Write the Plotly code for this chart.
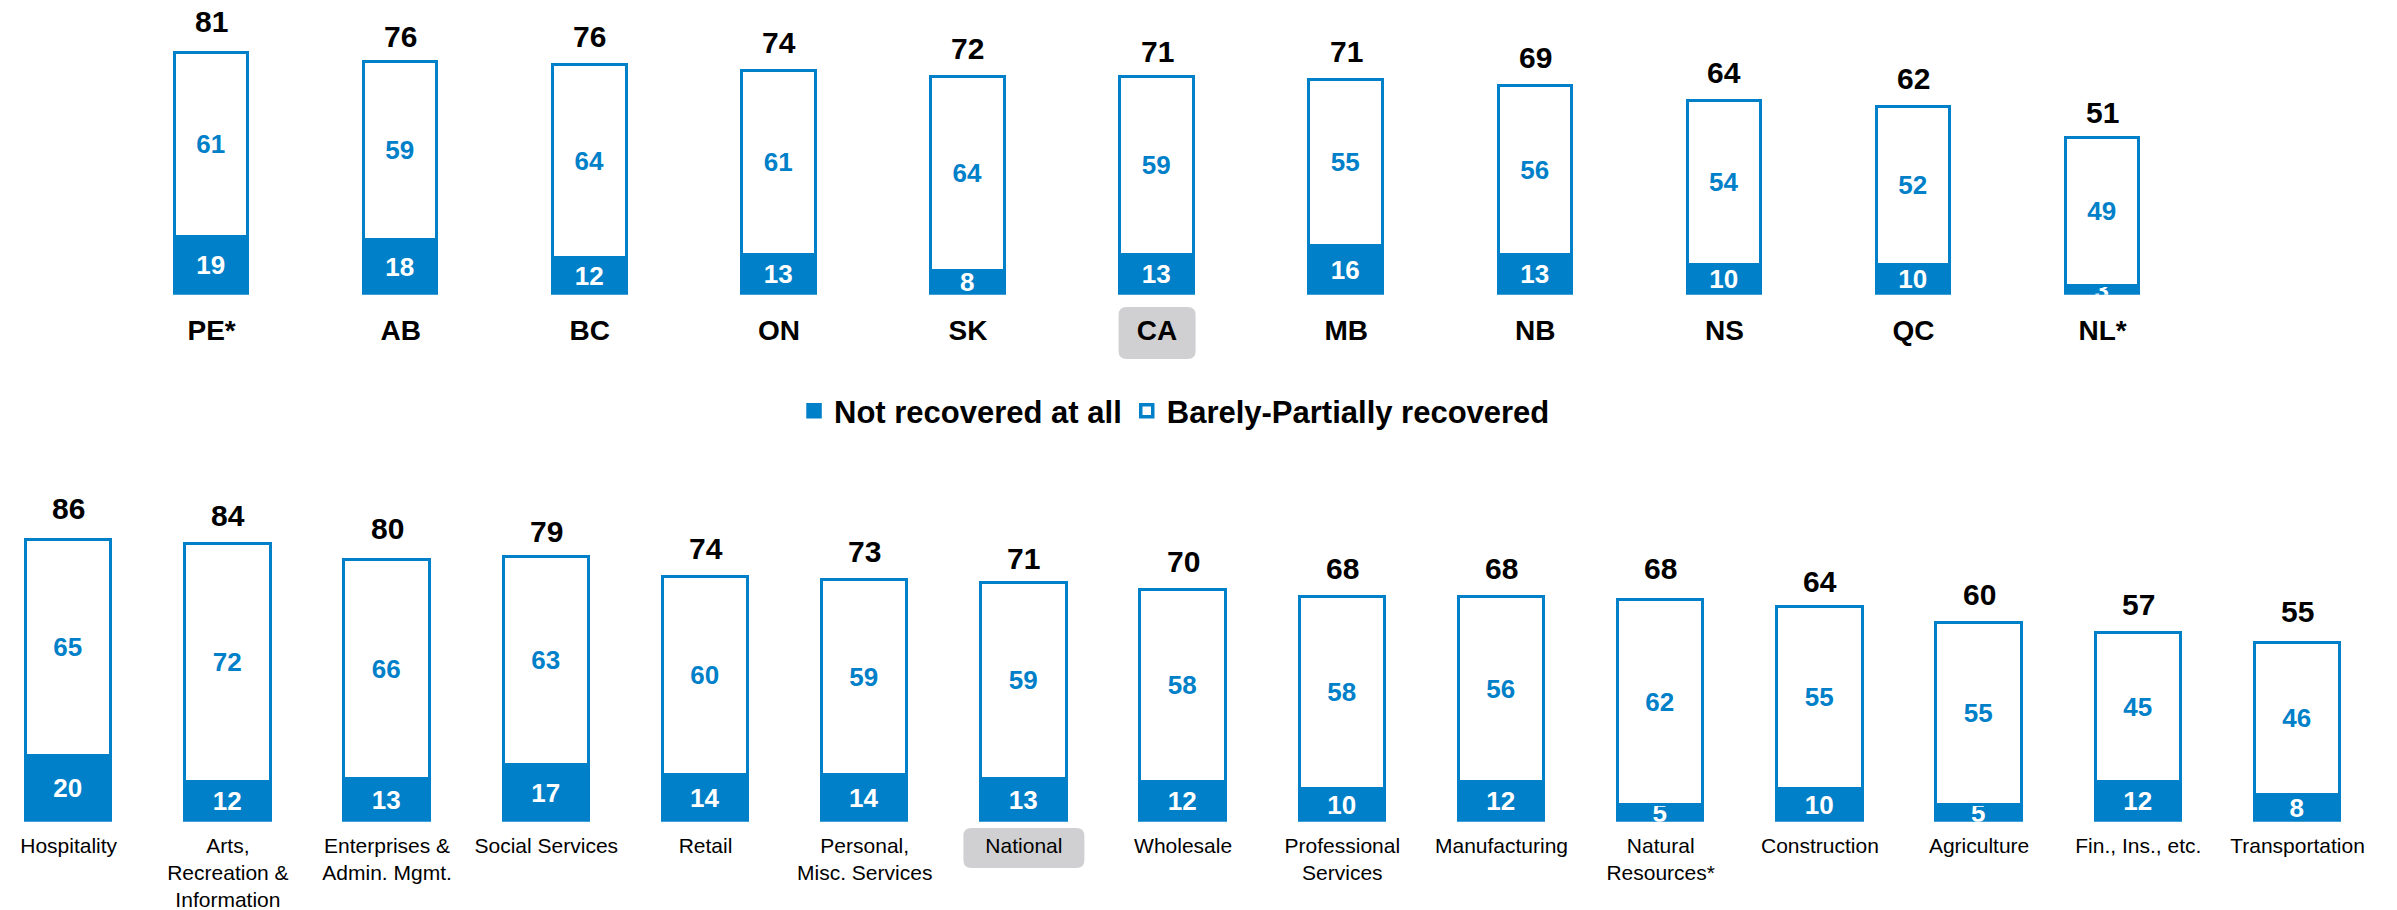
import plotly.graph_objects as go
from plotly.subplots import make_subplots

# provinces (top panel)
provinces = ["PE*", "AB", "BC", "ON", "SK", "CA", "MB", "NB", "NS", "QC", "NL*"]
prov_not = [19, 18, 12, 13, 8, 13, 16, 13, 10, 10, 3]
prov_partial = [61, 59, 64, 61, 64, 59, 55, 56, 54, 52, 49]
prov_total = [81, 76, 76, 74, 72, 71, 71, 69, 64, 62, 51]

# sectors (bottom panel)
sectors = ["Hospitality", "Arts,<br>Recreation &<br>Information", "Enterprises &<br>Admin. Mgmt.",
           "Social Services", "Retail", "Personal,<br>Misc. Services", "National", "Wholesale",
           "Professional<br>Services", "Manufacturing", "Natural<br>Resources*", "Construction",
           "Agriculture", "Fin., Ins., etc.", "Transportation"]
sect_not = [20, 12, 13, 17, 14, 14, 13, 12, 10, 12, 5, 10, 5, 12, 8]
sect_partial = [65, 72, 66, 63, 60, 59, 59, 58, 58, 56, 62, 55, 55, 45, 46]
sect_total = [86, 84, 80, 79, 74, 73, 71, 70, 68, 68, 68, 64, 60, 57, 55]

BLUE = "#0080C8"
FONT = "Liberation Sans, Arial, sans-serif"
W, H = 2397, 910

fig = make_subplots(rows=2, cols=1)


def add_panel(cats, nots, parts, row, width, legend):
    fig.add_trace(go.Bar(x=cats, y=nots, name="Not recovered at all", width=width,
                         marker=dict(color=BLUE, line=dict(color=BLUE, width=3.5)),
                         text=nots, textposition="inside", insidetextanchor="middle", textangle=0,
                         textfont=dict(color="white", size=26, family=FONT, weight="bold"),
                         showlegend=legend, hoverinfo="skip"), row=row, col=1)
    fig.add_trace(go.Bar(x=cats, y=parts, name="Barely-Partially recovered", width=width,
                         marker=dict(color="white", line=dict(color=BLUE, width=3.5)),
                         text=parts, textposition="inside", insidetextanchor="middle", textangle=0,
                         textfont=dict(color=BLUE, size=26, family=FONT, weight="bold"),
                         showlegend=legend, hoverinfo="skip"), row=row, col=1)


add_panel(provinces, prov_not, prov_partial, 1, 0.389, True)
add_panel(sectors, sect_not, sect_partial, 2, 0.537, False)

# totals above each bar
for cats, tots, xr, yr in [(provinces, prov_total, "x", "y"), (sectors, sect_total, "x2", "y2")]:
    for c, t in zip(cats, tots):
        fig.add_annotation(x=c, y=t, xref=xr, yref=yr, text=f"<b>{t}</b>", showarrow=False,
                           yanchor="bottom", yshift=10, font=dict(size=30, color="black", family=FONT))


def rounded_box(xc, hw, y0, y1, xref, rx, ry):
    a, b = xc - hw, xc + hw
    return dict(type="path", xref=xref, yref="paper", layer="below",
                fillcolor="#D0D0D2", line=dict(width=0),
                path=(f"M{a+rx},{y0} L{b-rx},{y0} Q{b},{y0} {b},{y0+ry} L{b},{y1-ry} Q{b},{y1} {b-rx},{y1} "
                      f"L{a+rx},{y1} Q{a},{y1} {a},{y1-ry} L{a},{y0+ry} Q{a},{y0} {a+rx},{y0} Z"))


# highlight the national reference categories
fig.add_shape(rounded_box(provinces.index("CA"), 0.2036, 1 - 359 / H, 1 - 307 / H, "x",
                          8 / 189.1, 8 / H))
fig.add_shape(rounded_box(sectors.index("National"), 0.380, 1 - 868 / H, 1 - 828 / H, "x2",
                          8 / 159.2, 8 / H))

fig.update_layout(
    width=W, height=H, barmode="stack", bargap=0,
    margin=dict(l=0, r=0, t=0, b=0),
    plot_bgcolor="rgba(0,0,0,0)", paper_bgcolor="white",
    uniformtext=dict(minsize=26, mode="show"),
    font=dict(family=FONT, color="black"),
    legend=dict(orientation="h", x=0.49, xanchor="center", y=1 - 411 / H, yanchor="middle",
                font=dict(size=31, family=FONT, weight="bold"), traceorder="normal",
                itemwidth=30, bgcolor="rgba(0,0,0,0)"),
    xaxis=dict(domain=[0, 1], range=[-1.119, 11.557], showgrid=False, showline=False,
               zeroline=False, ticks="", ticklabelstandoff=16,
               tickfont=dict(size=28, family=FONT, weight="bold")),
    yaxis=dict(domain=[1 - 294.7 / H, 1], range=[0, 294.7 / 3.02], visible=False),
    xaxis2=dict(domain=[0, 1], range=[-0.4315, 14.625], showgrid=False, showline=False,
                zeroline=False, ticks="", ticklabelstandoff=9,
                tickfont=dict(size=21, family=FONT)),
    yaxis2=dict(domain=[1 - 821.7 / H, 1 - 500 / H], range=[0, 321.7 / 3.31], visible=False),
)

fig.write_html("out.html", config={"displayModeBar": False},
               post_script="document.body.style.margin='0';document.body.style.overflow='hidden';")
